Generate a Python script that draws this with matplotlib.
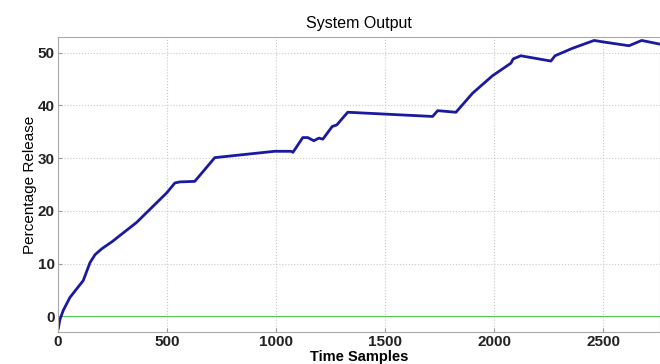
import matplotlib.pyplot as plt
import numpy as np

# valeurs
temps = [3, 10, 26, 56, 94, 117, 148, 171, 201, 250, 293, 361, 430, 499,
         537, 560, 628, 720, 994, 1070, 1078, 1123, 1146, 1174, 1197, 1215,
         1258, 1279, 1329, 1718, 1741, 1825, 1901, 1992, 2077, 2087, 2122,
         2260, 2279, 2358, 2458, 2503, 2618, 2676, 2760]
liberation = [-2.2, -0.6, 1.2, 3.6, 5.6, 6.8, 10.2, 11.7, 12.8, 14.2, 15.6,
              17.8, 20.6, 23.4, 25.3, 25.5, 25.6, 30.1, 31.3, 31.3, 31.1,
              33.9, 33.9, 33.3, 33.8, 33.6, 36.0, 36.3, 38.7, 37.9, 39.0,
              38.7, 42.3, 45.6, 48.0, 48.8, 49.4, 48.4, 49.4, 50.8, 52.3,
              52.0, 51.3, 52.3, 51.6]
reference = [0, 0]

plt.rcParams['font.family'] = ['Liberation Sans', 'DejaVu Sans']

fig = plt.figure(figsize=(6.6, 3.64), dpi=100)
ax = fig.add_axes([0.0874, 0.087, 0.9126, 0.812])

ax.plot([0, 2760], reference, color='#55cc55', lw=0.8)
ax.plot(temps, liberation, color='#1a1aa0', lw=2)

ax.set_xlim(0, 2760)
ax.set_ylim(-3, 53)
ax.set_xticks([0, 500, 1000, 1500, 2000, 2500])
ax.set_yticks([0, 10, 20, 30, 40, 50])
ax.grid(True, linestyle=':', color='#c8c8c8', lw=0.8)
ax.tick_params(direction='in', length=3, labelsize=11, pad=2, color='#999999')
for lab in ax.get_xticklabels() + ax.get_yticklabels():
    lab.set_fontweight('bold')
    lab.set_color('#222222')
for s in ax.spines.values():
    s.set_color('#aaaaaa')

ax.set_title("System Output", fontsize=11.5, pad=6)
ax.set_ylabel("Percentage Release", fontsize=11, labelpad=1)
ax.set_xlabel("Time Samples", fontsize=10.5, fontweight='bold', labelpad=1)

fig.savefig("out.png", dpi=100)
